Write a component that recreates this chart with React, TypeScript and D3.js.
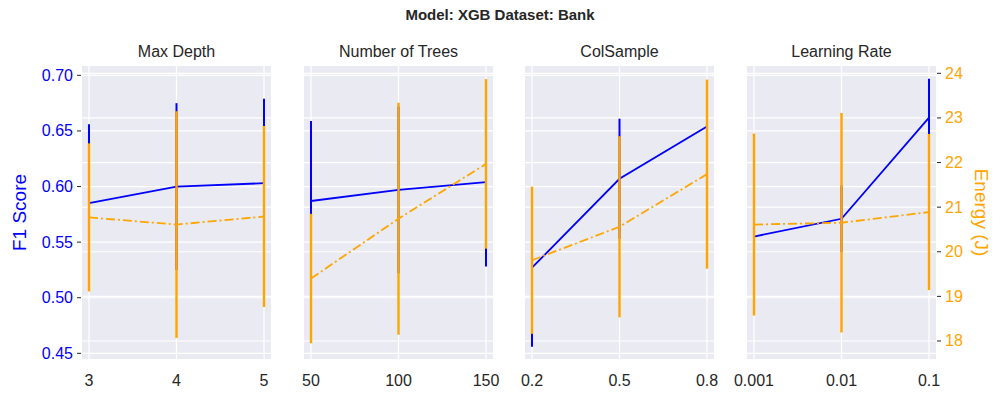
import React from "react";
import * as d3 from "d3";

const title = "Model: XGB Dataset: Bank";
const panelTitles = ["Max Depth", "Number of Trees", "ColSample", "Learning Rate"];
const xLabels = [["3", "4", "5"], ["50", "100", "150"], ["0.2", "0.5", "0.8"], ["0.001", "0.01", "0.1"]];
const f1Mean = [[0.585, 0.6, 0.603], [0.587, 0.597, 0.604], [0.527, 0.607, 0.654], [0.555, 0.571, 0.662]];
const f1Err = [[0.071, 0.075, 0.076], [0.072, 0.075, 0.076], [0.071, 0.054, 0.038], [0.03, 0.03, 0.035]];
const enMean = [[20.77, 20.61, 20.79], [19.4, 20.74, 21.97], [19.81, 20.56, 21.74], [20.61, 20.65, 20.89]];
const enErr = [[1.66, 2.54, 2.03], [1.45, 2.6, 1.9], [1.65, 2.03, 2.12], [2.04, 2.46, 1.75]];
const f1Ticks = [0.45, 0.5, 0.55, 0.6, 0.65, 0.7];
const enTicks = [18, 19, 20, 21, 22, 23, 24];

const panelLeft = [82, 304, 525, 747];
const PW = 189;
const TOP = 66;
const BOT = 359;
const FONT = "Liberation Sans, Arial, sans-serif";

export default function App() {
  const yF = d3.scaleLinear().domain([0.4449, 0.7084]).range([BOT, TOP]);
  const yE = d3.scaleLinear().domain([17.596, 24.164]).range([BOT, TOP]);
  return (
    <svg width={1000} height={400} style={{ position: "absolute", left: 0, top: 0, background: "#fff" }} fontFamily={FONT}>
      <text x={500} y={20} textAnchor="middle" fontWeight="bold" fontSize={15} fill="#262626">{title}</text>
      {panelTitles.map((t, p) => {
        const x0 = panelLeft[p];
        const x = d3.scaleLinear().domain([-0.08, 2.08]).range([x0, x0 + PW]);
        const idx = [0, 1, 2];
        const lineF = d3.line<number>().x((i) => x(i)).y((i) => yF(f1Mean[p][i]));
        const lineE = d3.line<number>().x((i) => x(i)).y((i) => yE(enMean[p][i]));
        return (
          <g key={p}>
            <rect x={x0} y={TOP} width={PW} height={BOT - TOP} fill="#eaeaf2" />
            {f1Ticks.map((v) => <line key={"f" + v} x1={x0} x2={x0 + PW} y1={yF(v)} y2={yF(v)} stroke="#fff" strokeWidth={1.2} />)}
            {enTicks.map((v) => <line key={"e" + v} x1={x0} x2={x0 + PW} y1={yE(v)} y2={yE(v)} stroke="#fff" strokeWidth={1.2} />)}
            {idx.map((i) => <line key={"v" + i} x1={x(i)} x2={x(i)} y1={TOP} y2={BOT} stroke="#fff" strokeWidth={1.2} />)}
            <text x={x0 + PW / 2} y={57} textAnchor="middle" fontSize={16} fill="#262626">{t}</text>
            {idx.map((i) => (
              <text key={"xl" + i} x={x(i)} y={386} textAnchor="middle" fontSize={16} fill="#262626">{xLabels[p][i]}</text>
            ))}
            {idx.map((i) => (
              <line key={"fe" + i} x1={x(i)} x2={x(i)} y1={yF(f1Mean[p][i] - f1Err[p][i])} y2={yF(f1Mean[p][i] + f1Err[p][i])} stroke="#0000ff" strokeWidth={2} />
            ))}
            <path d={lineF(idx) || ""} fill="none" stroke="#0000ff" strokeWidth={1.8} />
            {idx.map((i) => (
              <line key={"ee" + i} x1={x(i)} x2={x(i)} y1={yE(enMean[p][i] - enErr[p][i])} y2={yE(enMean[p][i] + enErr[p][i])} stroke="#ffa500" strokeWidth={2.4} />
            ))}
            <path d={lineE(idx) || ""} fill="none" stroke="#ffa500" strokeWidth={1.8} strokeDasharray="9,3,2,3" />
          </g>
        );
      })}
      {f1Ticks.map((v) => (
        <g key={"ft" + v}>
          <line x1={77} x2={81} y1={yF(v)} y2={yF(v)} stroke="#262626" />
          <text x={73} y={yF(v) + 5.5} textAnchor="end" fontSize={16} fill="#0000ff">{v.toFixed(2)}</text>
        </g>
      ))}
      {enTicks.map((v) => (
        <g key={"et" + v}>
          <line x1={937} x2={941} y1={yE(v)} y2={yE(v)} stroke="#262626" />
          <text x={945} y={yE(v) + 5.5} textAnchor="start" fontSize={16} fill="#ffa500">{v}</text>
        </g>
      ))}
      <text transform={`translate(26,${(TOP + BOT) / 2}) rotate(-90)`} textAnchor="middle" fontSize={19} fill="#0000ff">F1 Score</text>
      <text transform={`translate(975,${(TOP + BOT) / 2}) rotate(90)`} textAnchor="middle" fontSize={19} fill="#ffa500">Energy (J)</text>
    </svg>
  );
}
